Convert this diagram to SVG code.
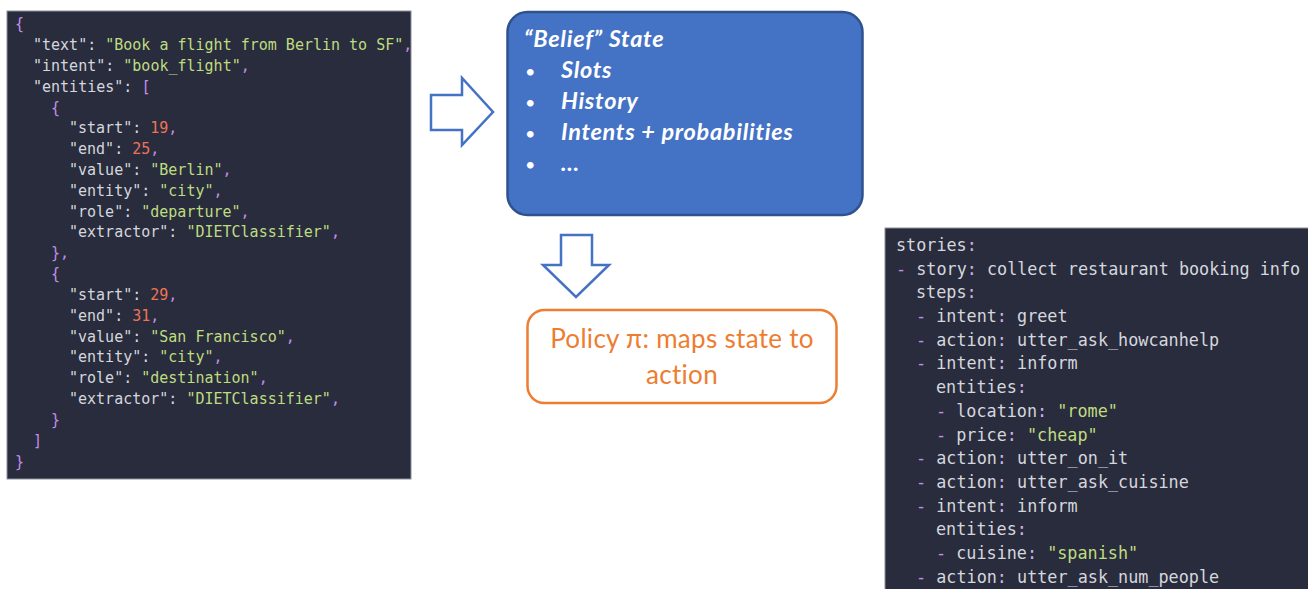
<svg xmlns="http://www.w3.org/2000/svg" width="1308" height="589" viewBox="0 0 1308 589">
  <style>
    .panel { fill: #292c3d; stroke: #8d909c; stroke-width: 1; }
    .code { font-family: "DejaVu Sans Mono", "Liberation Mono", monospace; fill: #d5d7dd; }
    .json { font-size: 15px; }
    .yaml { font-size: 16.8px; }
    .p { fill: #c48ee6; }
    .s { fill: #bfdc80; }
    .n { fill: #ec7455; }
    .c { fill: #c9b3e8; }
    .fat { fill: #ffffff; stroke: #4472c4; stroke-width: 2.5; stroke-linejoin: miter; }
    .belief { font-family: Lato, "Open Sans", sans-serif; font-style: italic; font-weight: bold; font-size: 23.5px; letter-spacing: 0.7px; fill: #ffffff; }
    .bullet { font-family: Lato, "Open Sans", sans-serif; font-size: 18px; fill: #ffffff; }
    .policy { font-family: Lato, "Open Sans", sans-serif; font-size: 26px; letter-spacing: 0.3px; fill: #ed7d31; }
  </style>

  <!-- NLU output sample (JSON) -->
  <g id="nlu-json">
    <rect class="panel" x="7" y="11" width="404" height="468"/>
    <g class="code json">
      <text x="15" y="29"><tspan class="p">{</tspan></text>
      <text x="33" y="50">"text": <tspan class="s">"Book a flight from Berlin to SF"</tspan><tspan class="p">,</tspan></text>
      <text x="33" y="71">"intent": <tspan class="s">"book_flight"</tspan><tspan class="p">,</tspan></text>
      <text x="33" y="92">"entities": <tspan class="p">[</tspan></text>
      <text x="51" y="113"><tspan class="p">{</tspan></text>
      <text x="69" y="133">"start": <tspan class="n">19</tspan><tspan class="p">,</tspan></text>
      <text x="69" y="154">"end": <tspan class="n">25</tspan><tspan class="p">,</tspan></text>
      <text x="69" y="175">"value": <tspan class="s">"Berlin"</tspan><tspan class="p">,</tspan></text>
      <text x="69" y="196">"entity": <tspan class="s">"city"</tspan><tspan class="p">,</tspan></text>
      <text x="69" y="217">"role": <tspan class="s">"departure"</tspan><tspan class="p">,</tspan></text>
      <text x="69" y="237">"extractor": <tspan class="s">"DIETClassifier"</tspan><tspan class="p">,</tspan></text>
      <text x="51" y="258"><tspan class="p">},</tspan></text>
      <text x="51" y="279"><tspan class="p">{</tspan></text>
      <text x="69" y="300">"start": <tspan class="n">29</tspan><tspan class="p">,</tspan></text>
      <text x="69" y="321">"end": <tspan class="n">31</tspan><tspan class="p">,</tspan></text>
      <text x="69" y="342">"value": <tspan class="s">"San Francisco"</tspan><tspan class="p">,</tspan></text>
      <text x="69" y="362">"entity": <tspan class="s">"city"</tspan><tspan class="p">,</tspan></text>
      <text x="69" y="383">"role": <tspan class="s">"destination"</tspan><tspan class="p">,</tspan></text>
      <text x="69" y="404">"extractor": <tspan class="s">"DIETClassifier"</tspan><tspan class="p">,</tspan></text>
      <text x="51" y="425"><tspan class="p">}</tspan></text>
      <text x="33" y="446"><tspan class="p">]</tspan></text>
      <text x="15" y="467"><tspan class="p">}</tspan></text>
    </g>
  </g>

  <!-- Belief state -->
  <g id="belief-state">
    <rect x="507.5" y="12" width="355" height="203" rx="20" ry="20" fill="#4472c4" stroke="#2f528f" stroke-width="2.5"/>
    <text class="belief" x="524" y="47">“Belief” State</text>
    <text class="bullet" x="525" y="78">•</text>
    <text class="belief" x="561" y="78">Slots</text>
    <text class="bullet" x="525" y="109">•</text>
    <text class="belief" x="561" y="109">History</text>
    <text class="bullet" x="525" y="140">•</text>
    <text class="belief" x="561" y="140">Intents + probabilities</text>
    <text class="bullet" x="525" y="171">•</text>
    <text class="belief" x="561" y="171">…</text>
  </g>

  <!-- Policy -->
  <g id="policy">
    <rect x="527.5" y="310" width="309" height="93" rx="17" ry="17" fill="#ffffff" stroke="#ed7d31" stroke-width="2.5"/>
    <text class="policy" x="682" y="348" text-anchor="middle">Policy π: maps state to</text>
    <text class="policy" x="682" y="384" text-anchor="middle">action</text>
  </g>

  <!-- Training story (YAML) -->
  <g id="stories-yaml">
    <rect class="panel" x="885" y="228" width="424" height="362"/>
    <g class="code yaml">
      <text x="896" y="251">stories<tspan class="c">:</tspan></text>
      <text x="896" y="275"><tspan class="p">-</tspan> story<tspan class="c">:</tspan> collect restaurant booking info</text>
      <text x="916" y="298">steps<tspan class="c">:</tspan></text>
      <text x="916" y="322"><tspan class="p">-</tspan> intent<tspan class="c">:</tspan> greet</text>
      <text x="916" y="346"><tspan class="p">-</tspan> action<tspan class="c">:</tspan> utter_ask_howcanhelp</text>
      <text x="916" y="369"><tspan class="p">-</tspan> intent<tspan class="c">:</tspan> inform</text>
      <text x="936" y="393">entities<tspan class="c">:</tspan></text>
      <text x="936" y="417"><tspan class="p">-</tspan> location<tspan class="c">:</tspan> <tspan class="s">"rome"</tspan></text>
      <text x="936" y="441"><tspan class="p">-</tspan> price<tspan class="c">:</tspan> <tspan class="s">"cheap"</tspan></text>
      <text x="916" y="464"><tspan class="p">-</tspan> action<tspan class="c">:</tspan> utter_on_it</text>
      <text x="916" y="488"><tspan class="p">-</tspan> action<tspan class="c">:</tspan> utter_ask_cuisine</text>
      <text x="916" y="512"><tspan class="p">-</tspan> intent<tspan class="c">:</tspan> inform</text>
      <text x="936" y="535">entities<tspan class="c">:</tspan></text>
      <text x="936" y="559"><tspan class="p">-</tspan> cuisine<tspan class="c">:</tspan> <tspan class="s">"spanish"</tspan></text>
      <text x="916" y="583"><tspan class="p">-</tspan> action<tspan class="c">:</tspan> utter_ask_num_people</text>
    </g>
  </g>

  <!-- Block arrows -->
  <g id="connectors">
    <polygon class="fat" points="431,95 462,95 462,78 493,112 462,145 462,130 431,130"/>
    <polygon class="fat" points="561,235 592,235 592,265 609,265 576,297 543,265 561,265"/>
  </g>
</svg>
